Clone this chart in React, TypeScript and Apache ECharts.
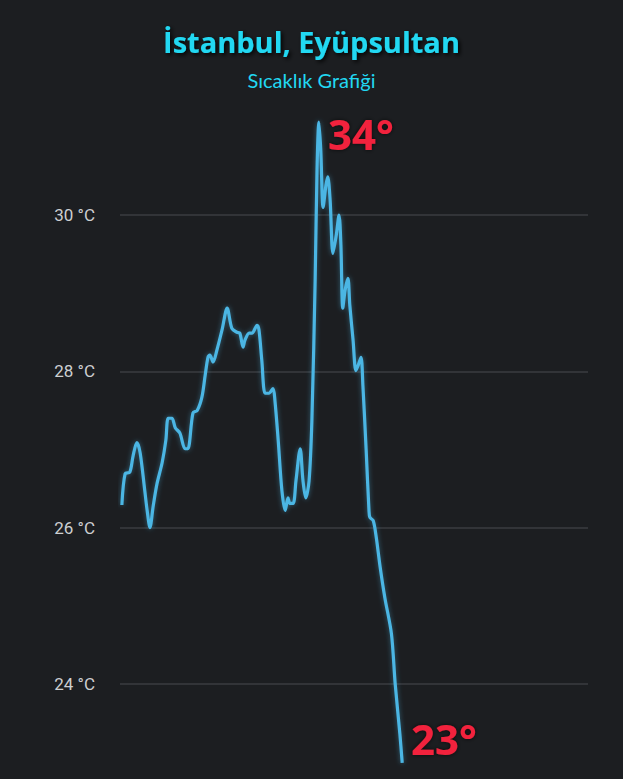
import React, { useEffect, useRef } from "react";
import * as echarts from "echarts";

const title = "İstanbul, Eyüpsultan";
const subtitle = "Sıcaklık Grafiği";
const maxLabel = "34°";
const minLabel = "23°";

// time position (0-100 scale of the x axis, hidden) and temperature (°C)
const times = [
  0.4, 1.1, 2.1, 2.8, 3.6, 4.3, 5.3, 5.8, 6.4, 7.1, 7.9, 9.0, 9.8, 10.3, 11.1, 11.8, 12.8, 13.9, 14.5,
  15.6, 16.5, 17.5, 18.2, 18.8, 19.2, 19.9, 20.7, 21.8, 22.9, 23.9, 25.0, 25.6, 26.3, 26.7, 27.6, 28.2,
  29.3, 29.7, 30.3, 31.0, 31.8, 32.7, 33.1, 33.8, 34.6, 35.3, 35.9, 36.3, 37.0, 37.6, 38.5, 39.1, 39.7,
  40.4, 41.0, 41.7, 42.1, 42.5, 42.9, 43.4, 44.0, 44.4, 44.9, 45.5, 46.2, 46.8, 47.2, 47.6, 48.1, 48.7,
  49.1, 49.8, 50.4, 50.9, 51.5, 51.9, 52.6, 53.2, 53.4, 54.1, 54.7, 55.6, 56.6, 58.0, 58.8, 59.8, 60.3,
];
const temps = [
  26.29, 26.69, 26.71, 26.92, 27.09, 26.96, 26.47, 26.22, 26.0, 26.28, 26.56, 26.83, 27.12, 27.4, 27.4,
  27.28, 27.21, 27.01, 27.01, 27.47, 27.5, 27.67, 27.95, 28.18, 28.21, 28.12, 28.27, 28.53, 28.81, 28.55,
  28.5, 28.49, 28.31, 28.4, 28.49, 28.49, 28.59, 28.53, 28.14, 27.72, 27.72, 27.78, 27.63, 27.12, 26.47,
  26.22, 26.38, 26.31, 26.31, 26.6, 27.01, 26.6, 26.38, 26.6, 27.37, 29.17, 30.58, 31.19, 30.83, 30.1,
  30.38, 30.49, 30.19, 29.51, 29.74, 30.0, 29.62, 28.81, 29.04, 29.19, 28.85, 28.4, 28.01, 28.08, 28.18,
  27.82, 26.99, 26.22, 26.13, 26.09, 25.9, 25.49, 25.1, 24.64, 24.0, 23.36, 22.99,
];
const yMin = 22.9;
const yMax = 31.3;
const yStep = 2;

export default function App() {
  const ref = useRef<HTMLDivElement>(null);
  useEffect(() => {
    if (!ref.current) return;
    const chart = echarts.init(ref.current, null, { renderer: "svg" });
    const data = times.map((t, i) => [t, temps[i]]);
    chart.setOption({
      animation: false,
      backgroundColor: "#1c1e21",
      grid: { left: 120, right: 35, top: 113.6, bottom: 9.2 },
      xAxis: {
        type: "value",
        min: 0,
        max: 100,
        show: false,
      },
      yAxis: {
        type: "value",
        min: yMin,
        max: yMax,
        minInterval: yStep,
        maxInterval: yStep,
        axisLine: { show: false },
        axisTick: { show: false },
        axisLabel: {
          showMinLabel: false,
          showMaxLabel: false,
          margin: 25,
          color: "#cdcfd1",
          fontSize: 17,
          fontFamily: "Roboto",
          formatter: (v: number) => (Math.abs(v % 2) < 1e-6 ? `${v} °C` : ""),
        },
        splitLine: {
          show: true,
          showMinLine: false,
          showMaxLine: false,
          lineStyle: { color: "#3a3d40", width: 1.5 },
        },
      },
      series: [
        {
          type: "line",
          data,
          smooth: 0.3,
          symbol: "none",
          lineStyle: {
            color: "#4cb6e4",
            width: 3.2,
            shadowColor: "rgba(76,182,228,0.45)",
            shadowBlur: 5,
          },
        },
      ],
      graphic: [
        {
          type: "text",
          left: "center",
          top: 27,
          style: {
            text: title,
            fill: "#22d8f2",
            font: "bold 29px 'Open Sans'",
            textShadowColor: "rgba(0,0,0,0.9)",
            textShadowBlur: 4,
            textShadowOffsetX: 2,
            textShadowOffsetY: 2,
          },
        },
        {
          type: "text",
          left: "center",
          top: 70,
          style: {
            text: subtitle,
            fill: "#22d8f2",
            font: "20px Lato",
          },
        },
        {
          type: "text",
          left: 328,
          top: 112,
          style: {
            text: maxLabel,
            fill: "#f2243c",
            font: "bold 42px 'Noto Sans'",
            textShadowColor: "rgba(0,0,0,0.7)",
            textShadowBlur: 4,
          },
        },
        {
          type: "text",
          left: 411,
          top: 717,
          style: {
            text: minLabel,
            fill: "#f2243c",
            font: "bold 42px 'Noto Sans'",
            textShadowColor: "rgba(0,0,0,0.7)",
            textShadowBlur: 4,
          },
        },
      ],
    });
    return () => chart.dispose();
  }, []);
  return (
    <div
      ref={ref}
      style={{ position: "fixed", left: 0, top: 0, width: 623, height: 779 }}
    />
  );
}
